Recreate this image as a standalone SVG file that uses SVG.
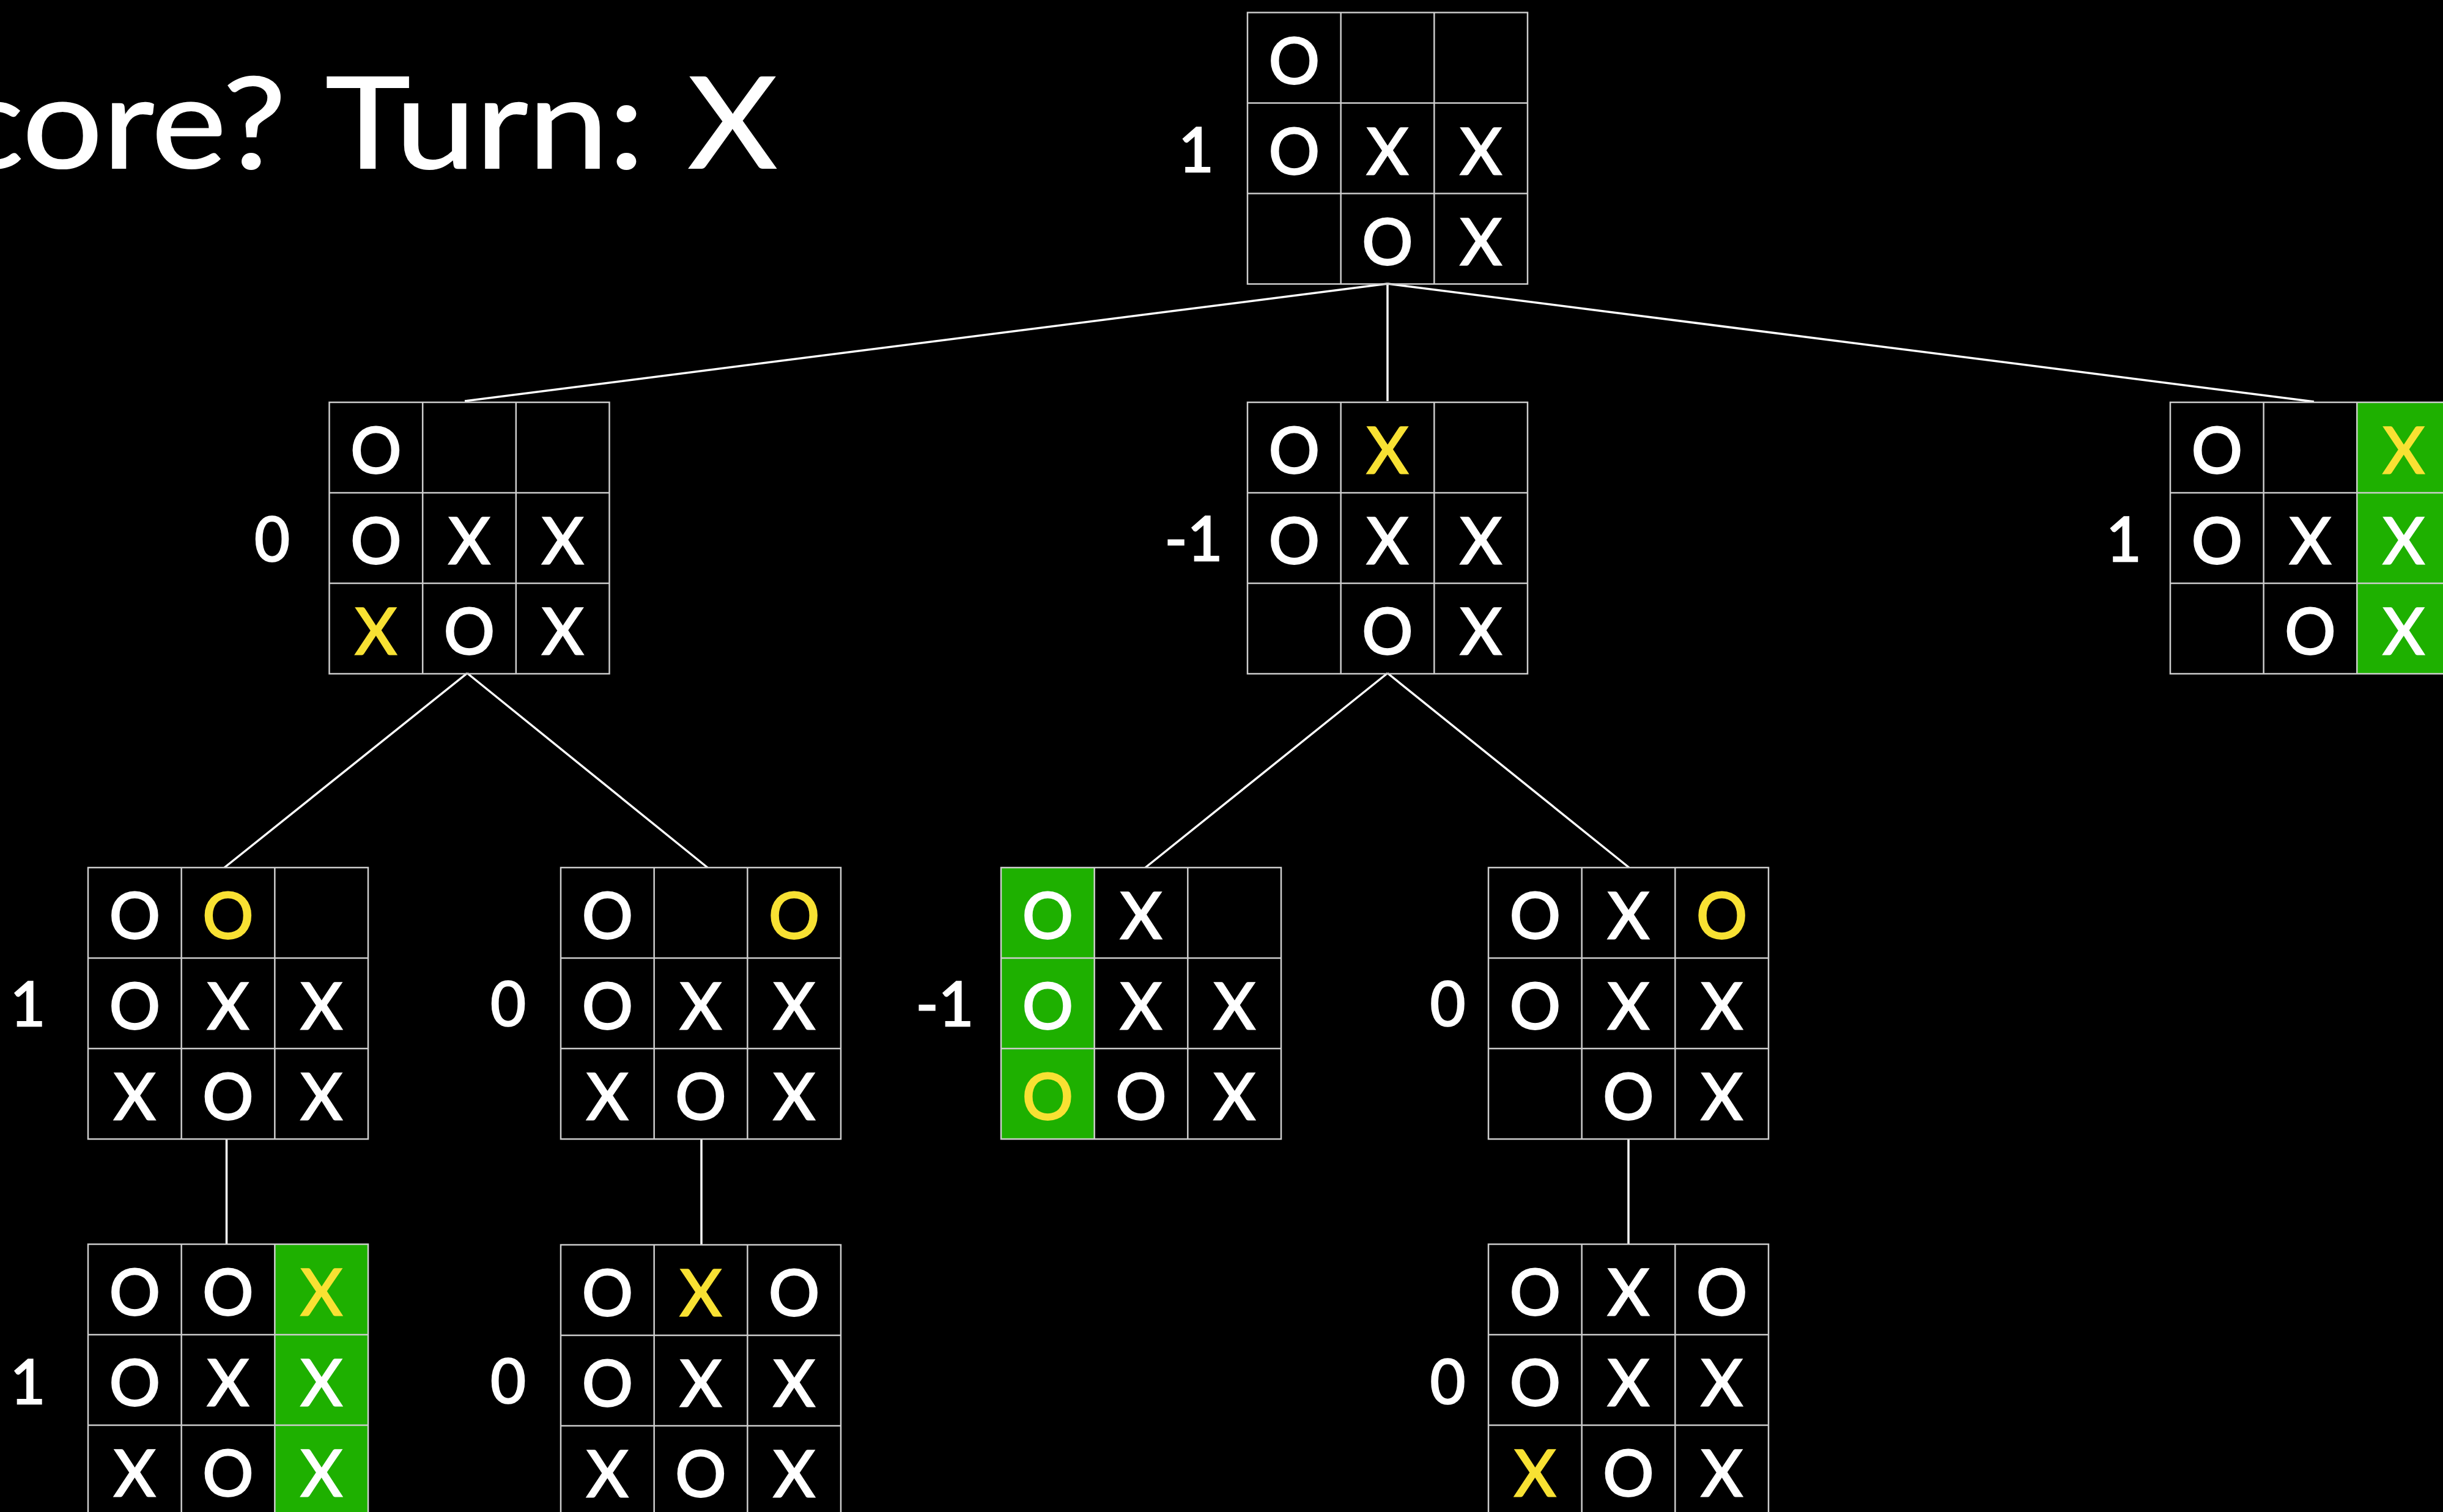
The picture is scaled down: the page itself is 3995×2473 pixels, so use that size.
<svg xmlns="http://www.w3.org/2000/svg" width="3995" height="2473" viewBox="0 0 3995 2473">
<defs>
<style>
.g{fill:none;stroke:#cdcdcd;stroke-width:2.5}
.w{fill:#1eb000}
.p{font-family:Lato,'Liberation Sans',sans-serif;font-size:104px;fill:#fff;stroke:#fff;stroke-width:3;text-anchor:middle}
.y{fill:#f8e133;stroke:#f8e133}
.l{font-family:Lato,'Liberation Sans',sans-serif;font-size:100px;fill:#fff;stroke:#fff;stroke-width:2.5;text-anchor:middle}
.c{stroke:#fff;stroke-width:3.5;fill:none}
.t{font-family:Lato,'Liberation Sans',sans-serif;font-size:208px;fill:#fff;stroke:#fff;stroke-width:2}
</style>
<path id="grid" class="g" d="M0 0H458V444H0Z M152.67 0V444 M305.33 0V444 M0 148H458 M0 296H458"/>
</defs>
<rect width="3995" height="2473" fill="#000"/>
<text class="t" y="275"><tspan x="-72" textLength="540" lengthAdjust="spacingAndGlyphs">core?</tspan><tspan x="532" textLength="522" lengthAdjust="spacingAndGlyphs">Turn:</tspan><tspan x="1125" textLength="146" lengthAdjust="spacingAndGlyphs">X</tspan></text>

<g id="connectors">
<path class="c" d="M2269 464L760 656M2269 464V656M2269 464L3784 657M764 1101L367 1419M764 1101L1157 1419M2269 1101L1873 1419M2269 1101L2664 1419M370.5 1863V2035M1147 1863V2036M2663 1863V2035"/>
</g>

<g id="root" transform="translate(2040,20.5)">
<use href="#grid"/>
<text class="l" x="-84" y="260">1</text>
<text class="p" x="76.3" y="116">O</text>
<text class="p" x="76.3" y="264">O</text><text class="p" x="229" y="264">X</text><text class="p" x="381.7" y="264">X</text>
<text class="p" x="229" y="412">O</text><text class="p" x="381.7" y="412">X</text>
</g>

<g id="l1-left" transform="translate(538.5,658)">
<use href="#grid"/>
<text class="l" x="-93.5" y="260">0</text>
<text class="p" x="76.3" y="116">O</text>
<text class="p" x="76.3" y="264">O</text><text class="p" x="229" y="264">X</text><text class="p" x="381.7" y="264">X</text>
<text class="p y" x="76.3" y="412">X</text><text class="p" x="229" y="412">O</text><text class="p" x="381.7" y="412">X</text>
</g>

<g id="l1-mid" transform="translate(2040,658)">
<use href="#grid"/>
<text class="l" x="-88" y="259">-1</text>
<text class="p" x="76.3" y="116">O</text><text class="p y" x="229" y="116">X</text>
<text class="p" x="76.3" y="264">O</text><text class="p" x="229" y="264">X</text><text class="p" x="381.7" y="264">X</text>
<text class="p" x="229" y="412">O</text><text class="p" x="381.7" y="412">X</text>
</g>

<g id="l1-right" transform="translate(3549,658)">
<rect class="w" x="305.33" y="0" width="152.67" height="444"/>
<use href="#grid"/>
<text class="l" x="-76" y="260">1</text>
<text class="p" x="76.3" y="116">O</text><text class="p y" x="381.7" y="116">X</text>
<text class="p" x="76.3" y="264">O</text><text class="p" x="229" y="264">X</text><text class="p" x="381.7" y="264">X</text>
<text class="p" x="229" y="412">O</text><text class="p" x="381.7" y="412">X</text>
</g>

<g id="l2-a" transform="translate(144,1419)">
<use href="#grid"/>
<text class="l" x="-98.5" y="259">1</text>
<text class="p" x="76.3" y="116">O</text><text class="p y" x="229" y="116">O</text>
<text class="p" x="76.3" y="264">O</text><text class="p" x="229" y="264">X</text><text class="p" x="381.7" y="264">X</text>
<text class="p" x="76.3" y="412">X</text><text class="p" x="229" y="412">O</text><text class="p" x="381.7" y="412">X</text>
</g>

<g id="l2-b" transform="translate(917,1419)">
<use href="#grid"/>
<text class="l" x="-86" y="259">0</text>
<text class="p" x="76.3" y="116">O</text><text class="p y" x="381.7" y="116">O</text>
<text class="p" x="76.3" y="264">O</text><text class="p" x="229" y="264">X</text><text class="p" x="381.7" y="264">X</text>
<text class="p" x="76.3" y="412">X</text><text class="p" x="229" y="412">O</text><text class="p" x="381.7" y="412">X</text>
</g>

<g id="l2-c" transform="translate(1637,1419)">
<rect class="w" x="0" y="0" width="152.67" height="444"/>
<use href="#grid"/>
<text class="l" x="-92" y="259">-1</text>
<text class="p" x="76.3" y="116">O</text><text class="p" x="229" y="116">X</text>
<text class="p" x="76.3" y="264">O</text><text class="p" x="229" y="264">X</text><text class="p" x="381.7" y="264">X</text>
<text class="p y" x="76.3" y="412">O</text><text class="p" x="229" y="412">O</text><text class="p" x="381.7" y="412">X</text>
</g>

<g id="l2-d" transform="translate(2434,1419)">
<use href="#grid"/>
<text class="l" x="-66.5" y="259">0</text>
<text class="p" x="76.3" y="116">O</text><text class="p" x="229" y="116">X</text><text class="p y" x="381.7" y="116">O</text>
<text class="p" x="76.3" y="264">O</text><text class="p" x="229" y="264">X</text><text class="p" x="381.7" y="264">X</text>
<text class="p" x="229" y="412">O</text><text class="p" x="381.7" y="412">X</text>
</g>

<g id="l3-a" transform="translate(144,2035)">
<rect class="w" x="305.33" y="0" width="152.67" height="444"/>
<use href="#grid"/>
<text class="l" x="-98.5" y="261">1</text>
<text class="p" x="76.3" y="116">O</text><text class="p" x="229" y="116">O</text><text class="p y" x="381.7" y="116">X</text>
<text class="p" x="76.3" y="264">O</text><text class="p" x="229" y="264">X</text><text class="p" x="381.7" y="264">X</text>
<text class="p" x="76.3" y="412">X</text><text class="p" x="229" y="412">O</text><text class="p" x="381.7" y="412">X</text>
</g>

<g id="l3-b" transform="translate(917,2036)">
<use href="#grid"/>
<text class="l" x="-86" y="259">0</text>
<text class="p" x="76.3" y="116">O</text><text class="p y" x="229" y="116">X</text><text class="p" x="381.7" y="116">O</text>
<text class="p" x="76.3" y="264">O</text><text class="p" x="229" y="264">X</text><text class="p" x="381.7" y="264">X</text>
<text class="p" x="76.3" y="412">X</text><text class="p" x="229" y="412">O</text><text class="p" x="381.7" y="412">X</text>
</g>

<g id="l3-c" transform="translate(2434,2035)">
<use href="#grid"/>
<text class="l" x="-66.5" y="261">0</text>
<text class="p" x="76.3" y="116">O</text><text class="p" x="229" y="116">X</text><text class="p" x="381.7" y="116">O</text>
<text class="p" x="76.3" y="264">O</text><text class="p" x="229" y="264">X</text><text class="p" x="381.7" y="264">X</text>
<text class="p y" x="76.3" y="412">X</text><text class="p" x="229" y="412">O</text><text class="p" x="381.7" y="412">X</text>
</g>
</svg>
